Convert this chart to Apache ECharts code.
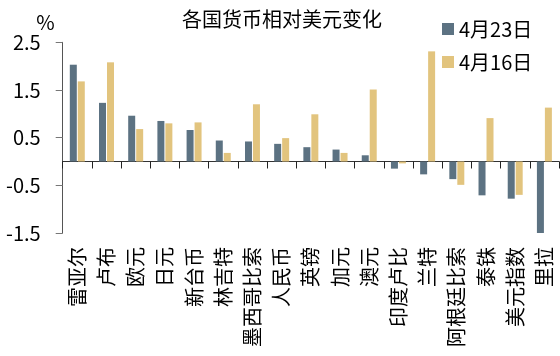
<!DOCTYPE html>
<html>
<head>
<meta charset="utf-8">
<script src="https://cdn.jsdelivr.net/npm/echarts@6/dist/echarts.min.js"></script>
<style>html,body{margin:0;padding:0;background:#fff}#c{width:560px;height:356px}</style>
</head>
<body>
<div id="c"></div>
<script>
const categories = ['雷亚尔','卢布','欧元','日元','新台币','林吉特','墨西哥比索','人民币','英镑','加元','澳元','印度卢比','兰特','阿根廷比索','泰铢','美元指数','里拉'];
const apr23 = [2.03, 1.23, 0.96, 0.85, 0.66, 0.44, 0.42, 0.37, 0.30, 0.25, 0.13, -0.15, -0.27, -0.37, -0.71, -0.78, -1.56];
const apr16 = [1.68, 2.08, 0.68, 0.80, 0.82, 0.18, 1.20, 0.49, 0.99, 0.18, 1.51, -0.04, 2.31, -0.49, 0.91, -0.70, 1.13];
const seriesNames = ['4月23日', '4月16日'];
const yTicks = { min: -1.5, max: 2.5, interval: 1 };
const titleText = '各国货币相对美元变化';
const unitText = '%';

const FONT = '"Noto Sans CJK SC", "Noto Sans", sans-serif';
const chart = echarts.init(document.getElementById('c'), null, { renderer: 'canvas' });
chart.setOption({
  animation: false,
  textStyle: { fontFamily: FONT },
  title: {
    text: titleText, left: 182, top: 9, padding: 0,
    textStyle: { fontFamily: FONT, fontSize: 20, fontWeight: 'normal', color: '#000' }
  },
  legend: {
    orient: 'vertical', left: 442, top: 19, padding: 0,
    itemWidth: 12, itemHeight: 12, itemGap: 13, icon: 'rect',
    textStyle: { fontFamily: FONT, fontSize: 20, color: '#000', lineHeight: 20 },
    data: seriesNames
  },
  grid: { left: 62.7, right: 1, top: 42.3, bottom: 123, containLabel: false, outerBoundsMode: 'none' },
  xAxis: {
    type: 'category', data: categories,
    axisLine: { onZero: true, lineStyle: { color: '#333', width: 1 } },
    axisTick: { show: true, length: 7, lineStyle: { color: '#222' } },
    axisLabel: { interval: 0, rotate: 90, margin: 14, fontSize: 20, color: '#000', fontFamily: FONT }
  },
  yAxis: {
    type: 'value', min: yTicks.min, max: yTicks.max, interval: yTicks.interval,
    name: unitText, nameLocation: 'end', nameGap: 10,
    nameTextStyle: { fontFamily: FONT, fontSize: 20, color: '#000', align: 'right', padding: [0, 8, 0, 0] },
    axisLine: { show: true, lineStyle: { color: '#555' } },
    axisTick: { show: true, length: 7, lineStyle: { color: '#777' } },
    splitLine: { show: false },
    axisLabel: { margin: 22, fontSize: 20, color: '#000', fontFamily: FONT,
      formatter: v => v.toFixed(1) }
  },
  series: [
    { name: seriesNames[0], type: 'bar', data: apr23, barWidth: 7, barGap: '14%',
      itemStyle: { color: '#5c7282' } },
    { name: seriesNames[1], type: 'bar', data: apr16, barWidth: 7,
      itemStyle: { color: '#e2c47e' } }
  ]
});
</script>
</body>
</html>
